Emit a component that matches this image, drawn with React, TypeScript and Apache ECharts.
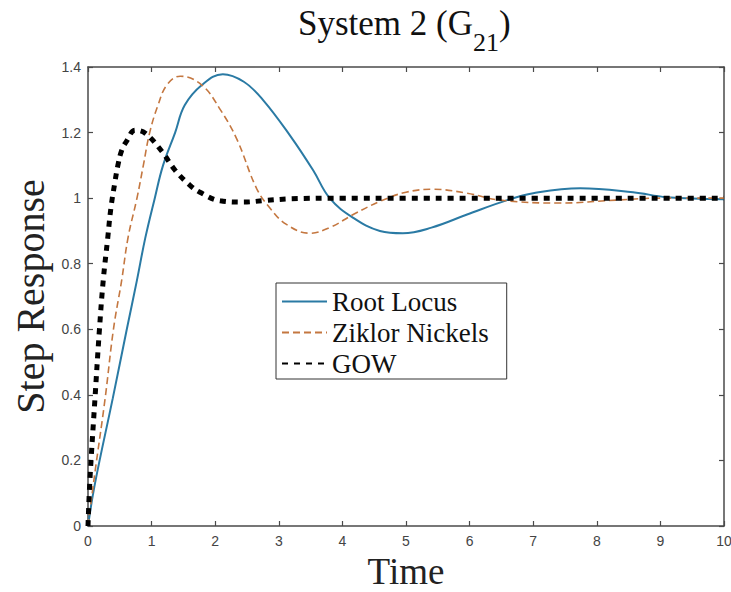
import React, { useEffect, useRef } from "react";
import * as echarts from "echarts";

const seriesNames = ["Root Locus", "Ziklor Nickels", "GOW"];

const rootTime = [0, 0.11, 0.39, 0.61, 0.77, 0.9, 1.05, 1.18, 1.37, 1.52, 1.79, 2.12, 2.45, 2.75, 3.18, 3.54, 3.8, 4.17, 4.59, 4.95, 5.4, 5.96, 6.59, 7.0, 7.74, 8.57, 9.1, 10];
const rootValues = [0, 0.13, 0.39, 0.6, 0.75, 0.878, 1.0, 1.1, 1.2, 1.283, 1.345, 1.378, 1.355, 1.3, 1.19, 1.085, 1.0, 0.94, 0.9, 0.893, 0.91, 0.95, 0.994, 1.015, 1.03, 1.018, 1.003, 0.997];

const zikTime = [0, 0.1, 0.27, 0.4, 0.53, 0.63, 0.77, 0.87, 0.97, 1.1, 1.24, 1.45, 1.79, 2.08, 2.34, 2.65, 2.86, 3.12, 3.49, 3.8, 4.17, 4.59, 5.0, 5.43, 5.96, 6.48, 7.42, 8.3, 9, 10];
const zikValues = [0, 0.15, 0.39, 0.6, 0.75, 0.88, 1.0, 1.1, 1.2, 1.283, 1.345, 1.372, 1.345, 1.27, 1.18, 1.03, 0.97, 0.92, 0.893, 0.91, 0.95, 0.99, 1.018, 1.027, 1.015, 0.994, 0.985, 0.994, 1.0, 1.0];

const gowTime = [0, 0.03, 0.11, 0.18, 0.24, 0.31, 0.36, 0.42, 0.47, 0.53, 0.61, 0.74, 0.9, 1.16, 1.37, 1.6, 1.76, 2.08, 2.44, 2.8, 3.2, 4, 5, 6, 7, 8, 9, 10];
const gowValues = [0, 0.14, 0.39, 0.6, 0.75, 0.878, 0.97, 1.045, 1.1, 1.146, 1.175, 1.207, 1.198, 1.143, 1.085, 1.04, 1.018, 0.992, 0.988, 0.993, 0.998, 1, 1, 1, 1, 1, 1, 1];

const pairs = (t: number[], v: number[]) => t.map((x, i) => [x, v[i]]);

const axisColor = "#4a4a4a";
const serif = "Liberation Serif";
const sans = "Liberation Sans";

export default function App() {
  const ref = useRef<HTMLDivElement>(null);
  useEffect(() => {
    if (!ref.current) return;
    const chart = echarts.init(ref.current, undefined, { renderer: "svg" });
    const frameAxis = {
      axisLine: { onZero: false, lineStyle: { color: axisColor, width: 1.5 } },
      axisTick: { inside: true, length: 5, lineStyle: { color: axisColor, width: 1.2 } },
      splitLine: { show: false },
    };
    chart.setOption({
      animation: false,
      backgroundColor: "#ffffff",
      title: {
        text: "{a|System 2 (G}{b|21}{a|)}",
        left: 298,
        top: 6,
        padding: 0,
        textStyle: {
          fontWeight: "normal",
          fontFamily: serif,
          rich: {
            a: { fontFamily: serif, fontSize: 35, fontWeight: "normal", color: "#111", verticalAlign: "top", lineHeight: 34 },
            b: { fontFamily: serif, fontSize: 26, fontWeight: "normal", color: "#111", verticalAlign: "top", lineHeight: 26, padding: [23, 0, 0, 0] },
          },
        },
      },
      legend: {
        left: 276,
        top: 283,
        orient: "vertical",
        itemWidth: 45,
        itemHeight: 14,
        itemGap: 4,
        padding: [5, 18, 2, 5],
        backgroundColor: "#ffffff",
        borderColor: "#333",
        borderWidth: 1,
        borderRadius: 0,
        itemStyle: { opacity: 0 },
        textStyle: { fontFamily: serif, fontSize: 27, color: "#111" },
        data: seriesNames,
      },
      grid: { left: 88, top: 67, right: 7, bottom: 66, outerBoundsMode: "none", containLabel: false },
      xAxis: [
        {
          type: "value",
          min: 0,
          max: 10,
          interval: 1,
          position: "bottom",
          ...frameAxis,
          axisLabel: { color: "#444", fontSize: 14, fontFamily: sans, margin: 8 },
          name: "Time",
          nameLocation: "middle",
          nameGap: 22,
          nameTextStyle: { fontFamily: serif, fontSize: 37, lineHeight: 37, color: "#222" },
        },
        {
          type: "value",
          min: 0,
          max: 10,
          interval: 1,
          position: "top",
          ...frameAxis,
          axisLabel: { show: false },
        },
      ],
      yAxis: [
        {
          type: "value",
          min: 0,
          max: 1.4,
          interval: 0.2,
          position: "left",
          ...frameAxis,
          axisLabel: { color: "#444", fontSize: 14, fontFamily: sans, margin: 7 },
          name: "Step Response",
          nameLocation: "middle",
          nameGap: 36,
          nameTextStyle: { fontFamily: serif, fontSize: 40, color: "#222" },
        },
        {
          type: "value",
          min: 0,
          max: 1.4,
          interval: 0.2,
          position: "right",
          ...frameAxis,
          axisLabel: { show: false },
        },
      ],
      series: [
        {
          name: seriesNames[0],
          type: "line",
          data: pairs(rootTime, rootValues),
          smooth: 0.4,
          symbol: "none",
          lineStyle: { color: "#2a7aa4", width: 2 },
          itemStyle: { color: "#2a7aa4" },
          z: 3,
        },
        {
          name: seriesNames[1],
          type: "line",
          data: pairs(zikTime, zikValues),
          smooth: 0.4,
          symbol: "none",
          lineStyle: { color: "#c47740", width: 1.6, type: [7, 4] },
          itemStyle: { color: "#c47740" },
          z: 4,
        },
        {
          name: seriesNames[2],
          type: "line",
          data: pairs(gowTime, gowValues),
          smooth: 0.4,
          symbol: "none",
          lineStyle: { color: "#000000", width: 5, type: [6, 6], cap: "butt" },
          itemStyle: { color: "#000000" },
          z: 5,
        },
      ],
    });
    return () => chart.dispose();
  }, []);
  return <div ref={ref} style={{ width: 731, height: 592, position: "absolute", left: 0, top: 0 }} />;
}
